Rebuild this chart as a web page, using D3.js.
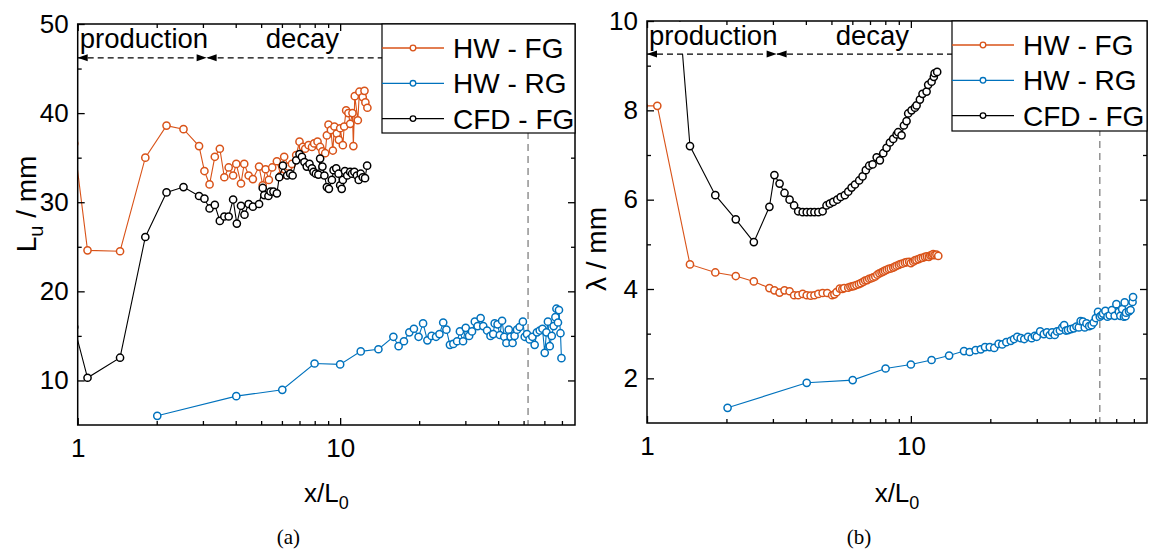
<!DOCTYPE html>
<html>
<head>
<meta charset="utf-8">
<script src="https://cdn.jsdelivr.net/npm/d3@7"></script>
<style>
  body { margin: 0; background: #fff; }
  svg { display: block; }
  text { font-family: "Liberation Sans", Arial, sans-serif; fill: #000; }
  text.caption { font-family: "Liberation Serif", "Times New Roman", serif; }
</style>
</head>
<body>
<svg id="fig" width="1151" height="549"></svg>
<script>
// ---- shared axis settings ----
const xDomain = [1, 78.5];
const xTickLabels = [1, 10];
const refLineX = 52;          // vertical dashed reference position (x/L0)
const regimeBreakX = 3.1;     // production / decay boundary (x/L0)

// ---- (a) integral length scale L_u [mm] vs x/L0, points as [x/L0, value] ----
const luHwFg = [
  [0.97,36.6],[1.09,24.6],[1.45,24.5],[1.81,35.0],[2.18,38.6],[2.53,38.2],[2.90,36.3],[3.04,33.5],
  [3.18,32.0],[3.33,35.1],[3.48,36.0],[3.62,32.8],[3.76,33.9],[3.91,33.0],[4.02,34.3],[4.19,32.1],
  [4.31,34.3],[4.48,33.0],[4.65,32.6],[4.91,34.0],[5.07,31.9],[5.20,33.7],[5.35,32.5],[5.51,33.9],
  [5.74,34.6],[5.95,33.0],[6.12,35.1],[6.36,34.0],[6.55,34.3],[6.80,35.3],[7.00,36.8],[7.21,36.2],
  [7.36,36.0],[7.58,36.4],[7.81,36.2],[7.96,36.6],[8.20,36.8],[8.39,36.2],[8.56,35.7],[8.77,35.5],
  [8.90,37.5],[9.03,38.7],[9.22,38.1],[9.38,35.8],[9.51,38.5],[9.71,37.7],[9.89,37.0],[10.0,38.3],
  [10.24,36.4],[10.36,38.5],[10.54,40.3],[10.75,40.0],[10.92,38.8],[11.14,40.0],[11.23,36.3],
  [11.37,41.9],[11.68,39.2],[11.84,42.4],[12.19,41.8],[12.38,42.5],[12.48,41.2],[12.70,40.6]
];
const luHwRg = [
  [2.01,6.03],[4.02,8.24],[6.02,8.95],[7.99,11.9],[10.0,11.8],[11.98,13.26],[13.99,13.5],[15.95,14.9],
  [16.7,13.85],[17.5,14.4],[18.35,15.4],[19.1,15.8],[19.9,14.9],[20.7,16.4],[21.5,14.5],[22.3,15.0],
  [23.2,14.9],[23.9,15.2],[24.7,16.5],[25.4,15.7],[26.2,14.0],[27.0,14.1],[27.9,14.4],[28.6,15.5],
  [29.4,14.4],[30.1,15.9],[31.0,15.0],[31.8,15.5],[32.6,16.6],[33.4,16.1],[34.3,17.0],[35.1,16.1],
  [36.3,15.6],[37.4,15.0],[38.3,15.2],[38.8,16.4],[39.8,16.3],[40.6,15.1],[41.4,16.7],[42.2,14.9],
  [43.0,14.2],[43.9,15.7],[44.6,14.9],[45.4,14.2],[46.2,15.0],[47.2,15.7],[48.3,16.0],[49.7,16.6],
  [50.5,14.9],[51.5,15.2],[52.7,14.6],[54.0,14.9],[55.1,14.0],[56.2,15.4],[57.6,15.6],[59.0,15.8],
  [60.2,13.1],[61.1,15.4],[61.9,16.6],[62.9,13.85],[64.0,15.0],[65.1,16.1],[66.1,17.1],[66.7,18.05],
  [67.6,16.5],[68.2,17.9],[69.1,15.3],[69.7,12.5]
];
const luCfdFg = [
  [0.97,16.0],[1.09,10.3],[1.45,12.55],[1.81,26.1],[2.18,31.1],[2.53,31.7],[2.90,30.7],[3.04,30.4],
  [3.18,29.3],[3.33,29.7],[3.48,27.9],[3.62,28.4],[3.76,28.4],[3.91,30.3],[4.04,27.6],[4.19,29.6],
  [4.32,28.6],[4.48,29.8],[4.65,29.5],[4.91,29.8],[5.07,31.6],[5.14,30.8],[5.33,30.7],[5.43,31.2],
  [5.57,31.2],[5.74,31.0],[5.86,32.8],[6.05,34.1],[6.28,33.0],[6.45,33.2],[6.59,33.0],[6.80,34.7],
  [7.00,35.4],[7.15,35.1],[7.31,34.5],[7.46,34.0],[7.64,34.3],[7.81,33.8],[7.92,33.4],[8.08,33.2],
  [8.26,33.1],[8.39,34.9],[8.56,34.0],[8.71,33.0],[8.90,31.7],[9.06,31.5],[9.30,32.5],[9.44,33.6],
  [9.66,33.8],[9.86,33.2],[10.0,31.9],[10.14,31.5],[10.24,32.5],[10.43,33.5],[10.64,33.0],[10.92,33.4],
  [11.10,33.2],[11.33,33.4],[11.58,33.0],[11.77,32.5],[11.98,33.2],[12.19,32.8],[12.44,32.7],[12.67,34.1]
];
const luYTicks = [10, 20, 30, 40, 50];
const luYMinor = [15, 25, 35, 45];

// ---- (b) Taylor microscale lambda [mm] vs x/L0 ----
const lamHwFg = [
  [0.97,8.1],[1.094,8.1],[1.455,4.55],[1.815,4.37],[2.17,4.29],[2.54,4.17],[2.91,4.02],[3.04,3.97],
  [3.18,3.92],[3.32,3.97],[3.47,3.95],[3.61,3.86],[3.74,3.86],[3.89,3.89],[4.03,3.86],[4.17,3.85],
  [4.31,3.86],[4.46,3.89],[4.63,3.91],[4.82,3.91],[5.03,3.86],[5.13,3.88],[5.23,3.93],[5.38,4.01],
  [5.5,4.0],[5.59,4.02],[5.79,4.03],[5.9,4.05],[6.0,4.06],[6.1,4.07],[6.22,4.09],[6.35,4.11],
  [6.47,4.13],[6.6,4.16],[6.71,4.19],[6.83,4.2],[6.95,4.23],[7.08,4.24],[7.2,4.26],[7.33,4.28],
  [7.46,4.32],[7.6,4.35],[7.74,4.37],[7.85,4.39],[7.97,4.41],[8.1,4.43],[8.25,4.45],[8.4,4.46],
  [8.57,4.48],[8.7,4.5],[8.83,4.52],[9.0,4.54],[9.14,4.56],[9.3,4.57],[9.49,4.59],[9.65,4.6],
  [9.85,4.61],[10.0,4.58],[10.2,4.61],[10.35,4.64],[10.5,4.65],[10.7,4.67],[10.9,4.69],[11.1,4.7],
  [11.3,4.72],[11.5,4.73],[11.7,4.72],[11.85,4.75],[12.0,4.76],[12.15,4.78],[12.3,4.76],[12.5,4.77],
  [12.7,4.74]
];
const lamHwRg = [
  [2.02,1.34],[4.03,1.9],[6.02,1.96],[8.02,2.22],[10.0,2.31],[11.98,2.41],[13.96,2.51],[15.9,2.61],
  [16.7,2.59],[17.6,2.63],[18.4,2.65],[19.1,2.7],[19.9,2.7],[20.7,2.68],[21.5,2.77],[22.2,2.76],
  [23.0,2.81],[23.9,2.84],[24.6,2.88],[25.3,2.93],[26.1,2.9],[26.9,2.88],[27.8,2.93],[28.7,2.9],
  [29.5,2.95],[30.0,2.93],[30.9,3.05],[31.9,2.99],[32.8,3.03],[33.6,2.97],[34.3,3.03],[35.1,2.97],
  [35.8,3.05],[36.7,3.07],[37.5,3.14],[38.1,3.19],[38.7,3.07],[39.4,3.08],[40.4,3.1],[41.4,3.12],
  [42.4,3.16],[43.3,3.14],[44.0,3.28],[44.9,3.27],[45.6,3.14],[46.3,3.23],[47.4,3.17],[48.4,3.19],
  [49.3,3.25],[50.2,3.35],[51.2,3.49],[52.0,3.38],[52.8,3.41],[53.5,3.45],[54.6,3.51],[55.6,3.38],
  [56.7,3.41],[57.8,3.53],[59.2,3.4],[60.1,3.66],[61.4,3.49],[62.2,3.4],[63.2,3.55],[64.2,3.38],
  [64.6,3.7],[65.1,3.39],[65.4,3.47],[67.1,3.5],[68.0,3.53],[69.2,3.71],[69.5,3.82]
];
const lamCfdFg = [
  [1.32,10.3],[1.455,7.2],[1.815,6.1],[2.17,5.56],[2.54,5.05],[2.91,5.84],[3.04,6.55],[3.18,6.36],
  [3.32,6.15],[3.47,6.0],[3.61,5.87],[3.74,5.74],[3.89,5.72],[4.03,5.72],[4.17,5.72],[4.31,5.72],
  [4.46,5.72],[4.63,5.74],[4.79,5.87],[4.93,5.91],[5.08,5.95],[5.26,6.0],[5.42,6.06],[5.62,6.1],
  [5.79,6.18],[5.96,6.27],[6.14,6.34],[6.37,6.43],[6.56,6.52],[6.75,6.66],[6.95,6.76],[7.16,6.79],
  [7.42,6.95],[7.63,6.88],[7.86,7.04],[8.09,7.16],[8.33,7.28],[8.57,7.36],[8.83,7.46],[8.95,7.51],
  [9.22,7.44],[9.41,7.66],[9.63,7.76],[9.77,7.93],[10.06,8.0],[10.36,8.06],[10.51,8.11],[10.82,8.24],
  [11.07,8.37],[11.47,8.42],[11.63,8.57],[11.98,8.64],[12.22,8.75],[12.3,8.83],[12.58,8.86]
];
const lamYTicks = [2, 4, 6, 8, 10];
const lamYMinor = [3, 5, 7, 9];

const seriesNames = ["HW - FG", "HW - RG", "CFD - FG"];
const seriesColors = ["#D95319", "#0072BD", "#000000"];

const svg = d3.select("#fig");
svg.append("rect").attr("width", 1151).attr("height", 549).attr("fill", "#fff");
const defs = svg.append("defs");

function drawPanel(p) {
  const x = d3.scaleLog().domain(xDomain).range([p.left, p.right]);
  const y = d3.scaleLinear().domain(p.yDomain).range([p.bottom, p.top]);
  const w = p.right - p.left, h = p.bottom - p.top;
  const g = svg.append("g");

  defs.append("clipPath").attr("id", "clip-" + p.id)
    .append("rect").attr("x", p.left).attr("y", p.top).attr("width", w).attr("height", h);

  // vertical reference line
  g.append("line")
    .attr("x1", x(refLineX)).attr("x2", x(refLineX))
    .attr("y1", p.top).attr("y2", p.bottom)
    .attr("stroke", "#8a8a8a").attr("stroke-width", 1.4).attr("stroke-dasharray", "7,5");

  // data series
  const plot = g.append("g").attr("clip-path", `url(#clip-${p.id})`);
  const line = d3.line().x(d => x(d[0])).y(d => y(d[1]));
  p.series.forEach((data, i) => {
    const s = plot.append("g");
    s.append("path").attr("d", line(data)).attr("fill", "none")
      .attr("stroke", seriesColors[i]).attr("stroke-width", 1.1);
    s.selectAll("circle").data(data).join("circle")
      .attr("cx", d => x(d[0])).attr("cy", d => y(d[1])).attr("r", 3.6)
      .attr("fill", "#fff").attr("stroke", seriesColors[i]).attr("stroke-width", 1.5);
  });

  // regime annotation strip
  const ay = y(p.annotY);
  const xb = x(regimeBreakX);
  g.append("rect").attr("x", p.left + 1).attr("y", p.top + 1)
    .attr("width", p.legend.x - p.left - 1).attr("height", ay - p.top - 1).attr("fill", "#fff");
  g.append("line").attr("x1", p.left).attr("x2", p.legend.x).attr("y1", ay).attr("y2", ay)
    .attr("stroke", "#000").attr("stroke-width", 1.3).attr("stroke-dasharray", "6,4");
  const tri = (tipX, dir) => `M${tipX},${ay}L${tipX - dir * 10},${ay - 3.5}L${tipX - dir * 10},${ay + 3.5}Z`;
  g.append("path").attr("d", tri(x(xDomain[0]), -1)).attr("fill", "#000");
  g.append("path").attr("d", tri(xb, 1)).attr("fill", "#000");
  g.append("path").attr("d", tri(xb, -1)).attr("fill", "#000");
  g.append("text").attr("x", p.left + 2).attr("y", ay - 9.5)
    .attr("font-size", 27.5).text("production");
  g.append("text").attr("x", (xb + p.legend.x) / 2 + 8).attr("y", ay - 9.5)
    .attr("text-anchor", "middle").attr("font-size", 27.5).text("decay");

  // axes with inward ticks on all four sides
  const xAll = x.ticks();
  const xMajor = xAll.filter(v => Number.isInteger(Math.log10(v)));
  const xMinor = xAll.filter(v => !Number.isInteger(Math.log10(v)));
  const styleAxis = sel => {
    sel.select(".domain").remove();
    sel.selectAll(".tick line").attr("stroke", "#000").attr("stroke-width", 1.3);
    sel.selectAll(".tick text").attr("font-size", 26).attr("fill", "#000");
    sel.attr("font-size", null).attr("font-family", null);
  };
  const ax = (axisFn, scale, vals, size, pos, labels, pad) => {
    const a = axisFn(scale).tickValues(vals).tickSize(-size).tickSizeOuter(0);
    if (labels) a.tickFormat(v => labels.includes(v) ? d3.format("d")(v) : "").tickPadding(pad);
    else a.tickFormat("");
    g.append("g").attr("transform", pos).call(a).call(styleAxis);
  };
  ax(d3.axisBottom, x, xMajor, 7, `translate(0,${p.bottom})`, xTickLabels, 13.5);
  ax(d3.axisBottom, x, xMinor, 4, `translate(0,${p.bottom})`);
  ax(d3.axisTop, x, xMajor, 7, `translate(0,${p.top})`);
  ax(d3.axisTop, x, xMinor, 4, `translate(0,${p.top})`);
  ax(d3.axisLeft, y, p.yTicks, 7, `translate(${p.left},0)`, p.yTicks, 9);
  ax(d3.axisLeft, y, p.yMinor, 4, `translate(${p.left},0)`);
  ax(d3.axisRight, y, p.yTicks, 7, `translate(${p.right},0)`);
  ax(d3.axisRight, y, p.yMinor, 4, `translate(${p.right},0)`);

  // frame
  g.append("rect").attr("x", p.left).attr("y", p.top).attr("width", w).attr("height", h)
    .attr("fill", "none").attr("stroke", "#000").attr("stroke-width", 1.5);

  // legend
  const L = p.legend;
  const lg = g.append("g");
  lg.append("rect").attr("x", L.x).attr("y", L.y).attr("width", p.right - L.x).attr("height", L.h)
    .attr("fill", "#fff").attr("stroke", "#000").attr("stroke-width", 1.2);
  seriesNames.forEach((name, i) => {
    const cy = L.y + 24 + i * 35.3;
    lg.append("line").attr("x1", L.x).attr("x2", L.x + 62).attr("y1", cy).attr("y2", cy)
      .attr("stroke", seriesColors[i]).attr("stroke-width", 1.3);
    lg.append("circle").attr("cx", L.x + 31).attr("cy", cy).attr("r", 2.8)
      .attr("fill", "#fff").attr("stroke", seriesColors[i]).attr("stroke-width", 1.3);
    lg.append("text").attr("x", L.x + 71).attr("y", cy + 10).attr("font-size", 28).text(name);
  });

  // axis titles
  const cx = (p.left + p.right) / 2;
  const xt = g.append("text").attr("x", cx).attr("y", 502).attr("text-anchor", "middle").attr("font-size", 26);
  xt.append("tspan").text("x/L");
  xt.append("tspan").attr("font-size", 18).attr("dy", 7).text("0");

  const yt = g.append("text")
    .attr("transform", `translate(${p.yTitleX},${p.yTitleY}) rotate(-90)`)
    .attr("text-anchor", "middle").attr("font-size", 28);
  p.yTitle(yt);

  // panel caption
  svg.append("text").attr("class", "caption").attr("x", cx - 38).attr("y", 544)
    .attr("text-anchor", "middle").attr("font-size", 21).text(p.caption);
}

drawPanel({
  id: "a", left: 77.7, right: 575, top: 24, bottom: 425,
  yDomain: [5, 50], yTicks: luYTicks, yMinor: luYMinor, annotY: 46.2,
  series: [luHwFg, luHwRg, luCfdFg],
  legend: { x: 382, y: 24, h: 109 },
  yTitleX: 36, yTitleY: 204,
  yTitle: t => {
    t.append("tspan").text("L");
    t.append("tspan").attr("font-size", 20).attr("dy", 7).text("u");
    t.append("tspan").attr("dy", -7).text(" / mm");
  },
  caption: "(a)"
});

drawPanel({
  id: "b", left: 647, right: 1147, top: 21, bottom: 423,
  yDomain: [1, 10], yTicks: lamYTicks, yMinor: lamYMinor, annotY: 9.26,
  series: [lamHwFg, lamHwRg, lamCfdFg],
  legend: { x: 952, y: 21, h: 110 },
  yTitleX: 606, yTitleY: 249,
  yTitle: t => { t.text("λ / mm"); },
  caption: "(b)"
});
</script>
</body>
</html>
